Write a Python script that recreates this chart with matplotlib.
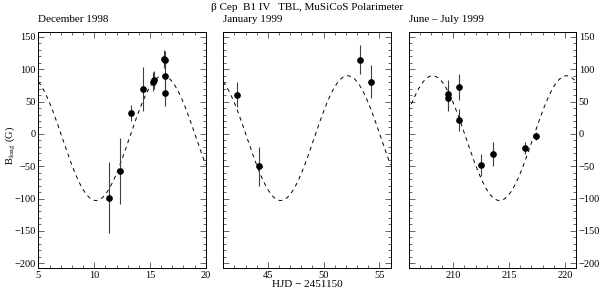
import numpy as np
import matplotlib
matplotlib.use('Agg')
import matplotlib.pyplot as plt
from matplotlib.ticker import MultipleLocator

plt.rcParams['font.family'] = ['Liberation Serif', 'DejaVu Serif']
plt.rcParams['mathtext.fontset'] = 'stix'

# data (HJD - 2451150, B_long in G, error)
t_dec = [11.35, 12.34, 13.33, 14.38, 15.25, 15.37, 16.29, 16.38, 16.30, 16.30]
b_dec = [-99, -57, 32, 70, 81, 84, 116, 114, 90, 64]
e_dec = [55, 51, 12, 34, 15, 14, 14, 14, 20, 21]

t_jan = [42.25, 44.23, 53.25, 54.26]
b_jan = [61, -50, 115, 81]
e_jan = [20, 30, 22, 26]

t_jun = [209.50, 209.56, 210.48, 210.54, 212.51, 213.53, 216.46, 217.42]
b_jun = [62, 55, 73, 21, -48, -31, -22, -3]
e_jun = [21, 20, 20, 17, 17, 18, 9, 6]

# sine fit shown as dashed line (period, time of minimum, mean, amplitude)
P_rot = 12.0
t_min = 10.15
b_mean = -6.5
b_amp = 96.5

panels = [
    ('December 1998', t_dec, b_dec, e_dec, (5, 20)),
    ('January 1999', t_jan, b_jan, e_jan, (41, 56)),
    ('June \u2013 July 1999', t_jun, b_jun, e_jun, (206, 221)),
]

fig = plt.figure(figsize=(6.0, 2.92), dpi=100)
lefts = [0.064, 0.372, 0.681]
axes = []
for i, (name, t, b, e, xl) in enumerate(panels):
    ax = fig.add_axes([lefts[i], 0.081, 0.279, 0.81])
    tt = np.linspace(xl[0], xl[1], 400)
    ax.plot(tt, b_mean - b_amp*np.cos(2*np.pi*(tt - t_min)/P_rot),
            ls=(0, (4, 4)), lw=0.7, c='k')
    ax.errorbar(t, b, yerr=e, ls='', marker='o', ms=3.8, mfc='k', mec='k',
                ecolor='0.25', elinewidth=0.8, capsize=0)
    ax.set_xlim(xl)
    ax.set_ylim(-208, 158)
    ax.xaxis.set_major_locator(MultipleLocator(5))
    ax.xaxis.set_minor_locator(MultipleLocator(1))
    ax.yaxis.set_major_locator(MultipleLocator(50))
    ax.yaxis.set_minor_locator(MultipleLocator(10))
    ax.tick_params(which='both', direction='in', top=True, right=True,
                   labelsize=7.5, width=0.6, color='0.3', pad=2)
    ax.tick_params(which='major', length=4.5)
    ax.tick_params(which='minor', length=2.5)
    for s in ax.spines.values():
        s.set_linewidth(0.7)
    ax.text(0.0, 1.035, name, transform=ax.transAxes, fontsize=8,
            ha='left', va='bottom')
    if i == 1:
        ax.set_yticklabels([])
        ax.set_xlabel('HJD \u2212 2451150', fontsize=8, labelpad=0)
    if i == 2:
        ax.yaxis.tick_right()
        ax.tick_params(which='both', left=True, right=True)
    axes.append(ax)

fig.text(0.017, 0.5, r'B$_{\mathrm{long}}$ (G)', rotation=90,
         ha='center', va='center', fontsize=7.5)

fig.text(0.512, 0.975, '\u03b2 Cep  B1 IV   TBL, MuSiCoS Polarimeter',
         ha='center', va='center', fontsize=8)

fig.savefig('out.png', dpi=100)
